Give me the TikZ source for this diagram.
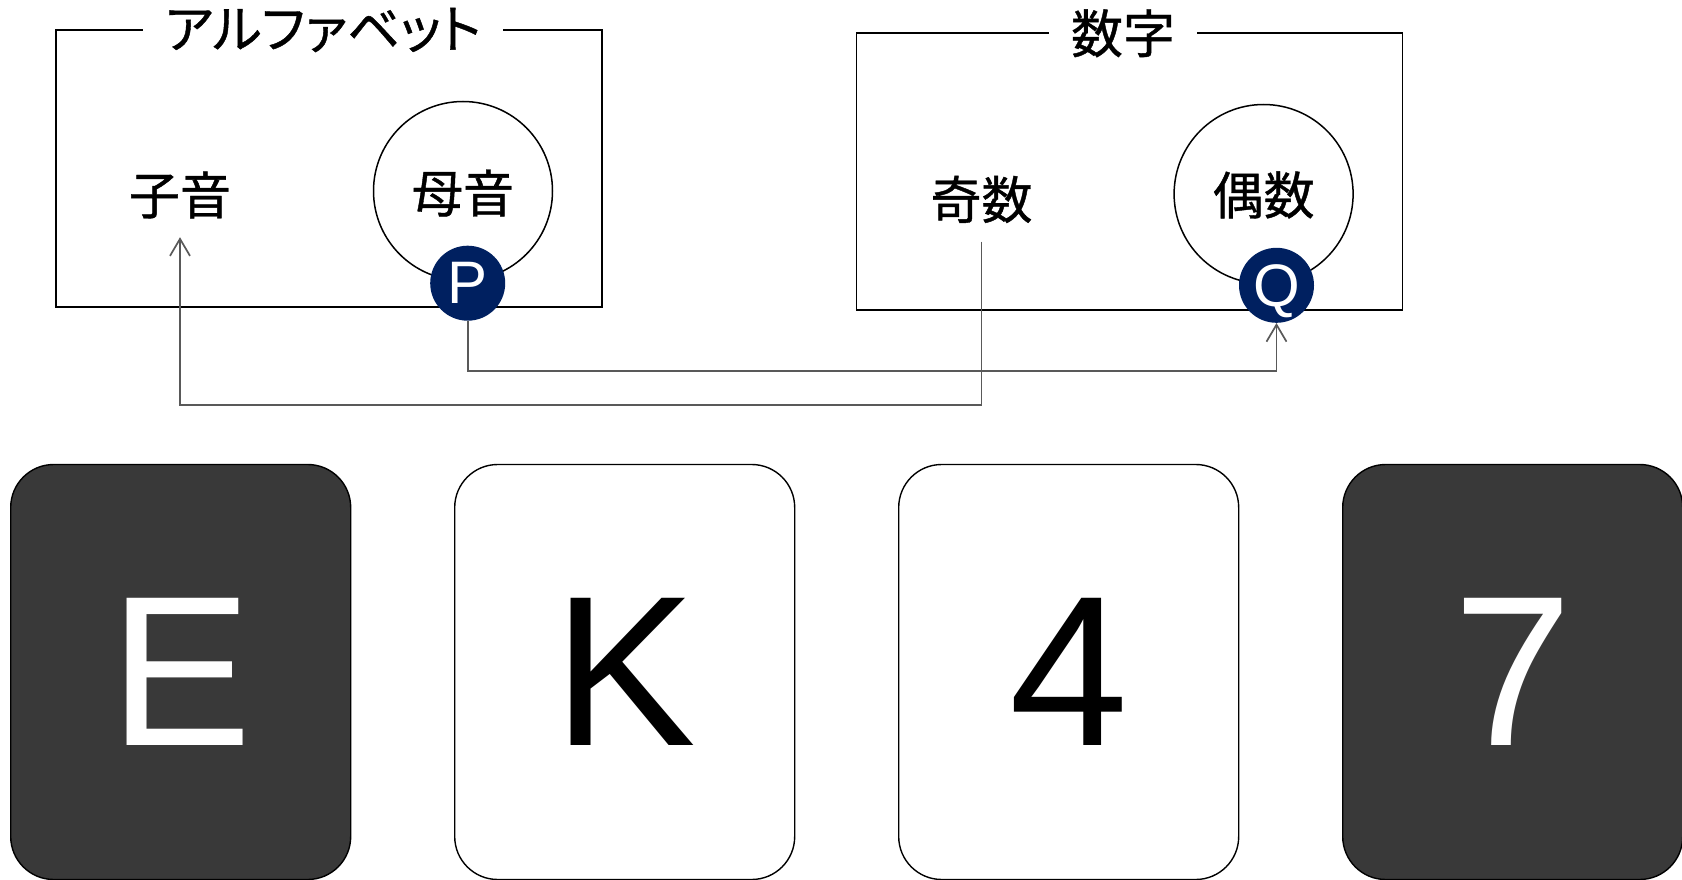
\documentclass[tikz,border=0pt]{standalone}
\usepackage{fontspec}
\setmainfont{Liberation Sans}
\newfontfamily\jpfont[FakeBold=0.8]{Noto Sans CJK JP}
\newfontfamily\jptitlefont[RawFeature=+palt, FakeBold=0.8]{Noto Sans CJK JP}
\usetikzlibrary{positioning, arrows.meta}
\definecolor{badgeblue}{HTML}{002060}
\definecolor{carddark}{HTML}{393939}
\definecolor{linkgray}{HTML}{595959}

\begin{document}
\begin{tikzpicture}[x=1pt, y=-1pt, >={Straight Barb[length=17pt,width=20pt]},
    groupframe/.style={draw, line width=1.8pt, minimum width=546pt, minimum height=277pt, inner sep=0pt},
    frametitle/.style={fill=white, inner xsep=22pt, inner ysep=0pt, font=\jptitlefont\fontsize{52}{52}\selectfont},
    jplabel/.style={font=\jpfont\fontsize{51}{51}\selectfont, minimum height=84pt, inner sep=0pt},
    bubble/.style={draw, circle, line width=1.5pt, minimum size=179pt, inner sep=0pt},
    badge/.style={circle, fill=badgeblue, text=white, minimum size=75pt, inner sep=0pt, text depth=0pt, font=\fontsize{60}{60}\selectfont},
    linkline/.style={draw=linkgray, line width=1.7pt},
    card/.style={draw, line width=1.4pt, rounded corners=43pt, minimum width=340pt, minimum height=415pt, font=\fontsize{214}{214}\selectfont}]
    \useasboundingbox (0,0) rectangle (1682,880);

    % alphabet group
    \node[groupframe] (alpha) at (328.8,168.4) {};
    \node[frametitle] (alphatitle) at (323,30) {アルファベット};
    \node[bubble] (vowelring) at (463,191) {};
    \node[jplabel] (vowel) at (463,193) {母音};
    \node[jplabel] (cons) at (180,195) {子音};
    \node[badge] (P) at (467.7,283.2) {P};

    % number group
    \node[groupframe] (num) at (1129.5,171.7) {};
    \node[frametitle] (numtitle) at (1123,33.3) {数字};
    \node[bubble] (evenring) at (1263.6,194) {};
    \node[jplabel] (even) at (1263.6,195) {偶数};
    \node[jplabel] (odd) at (981.5,199.5) {奇数};
    \node[badge] (Q) at (1276.5,285.3) {Q};

    % connectors
    \draw[linkline,->] (P.south) -- ++(0,50.3) -| (Q.south);
    \draw[linkline,->] (odd.south) -- ++(0,163) -| (cons.south);

    % cards
    \foreach \glyph/\fillc/\textc [count=\i] in {E/carddark/white, K/white/black, 4/white/black, 7/carddark/white}
        \node[card, fill=\fillc, text=\textc] (card\i) at (180.7+444*\i-444, 672) {\glyph};
\end{tikzpicture}
\end{document}
